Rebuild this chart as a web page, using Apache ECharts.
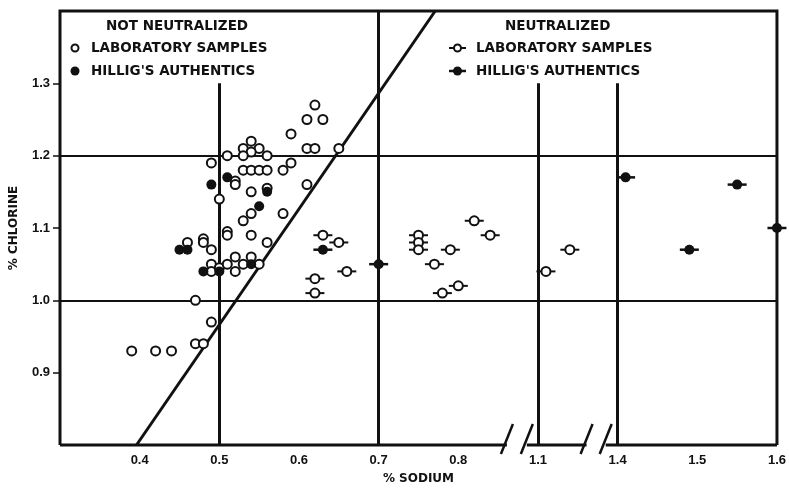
<!DOCTYPE html>
<html>
<head>
<meta charset="utf-8">
<script src="https://cdn.jsdelivr.net/npm/echarts@6/dist/echarts.min.js"></script>
<style>html,body{margin:0;padding:0;background:#fff}#c{width:789px;height:490px}</style>
</head>
<body>
<div id="c"></div>
<script>
// ---- data (% sodium, % chlorine) ----
const notNeutLabNa = [0.62,0.61,0.63,0.59,0.54,0.53,0.55,0.54,0.51,0.53,0.56,0.49,0.53,0.54,0.55,0.56,0.58,0.59,0.61,0.62,0.65,0.61,0.52,0.52,0.54,0.56,0.54,0.53,0.58,0.50,0.54,0.51,0.51,0.56,0.46,0.48,0.48,0.49,0.49,0.49,0.50,0.51,0.52,0.52,0.53,0.54,0.55,0.47,0.49,0.47,0.48,0.39,0.42,0.44];
const notNeutLabCl = [1.27,1.25,1.25,1.23,1.22,1.21,1.21,1.205,1.20,1.20,1.20,1.19,1.18,1.18,1.18,1.18,1.18,1.19,1.21,1.21,1.21,1.16,1.165,1.16,1.15,1.155,1.12,1.11,1.12,1.14,1.09,1.095,1.09,1.08,1.08,1.085,1.08,1.07,1.05,1.04,1.045,1.05,1.06,1.04,1.05,1.06,1.05,1.00,0.97,0.94,0.94,0.93,0.93,0.93];
const notNeutAuthNa = [0.49,0.51,0.55,0.56,0.45,0.46,0.48,0.50,0.54];
const notNeutAuthCl = [1.16,1.17,1.13,1.15,1.07,1.07,1.04,1.04,1.05];
const neutLabNa = [0.63,0.65,0.66,0.62,0.62,0.75,0.75,0.75,0.77,0.78,0.79,0.80,0.82,0.84,1.11,1.14];
const neutLabCl = [1.09,1.08,1.04,1.03,1.01,1.09,1.08,1.07,1.05,1.01,1.07,1.02,1.11,1.09,1.04,1.07];
const neutAuthNa = [0.63,0.70,1.41,1.49,1.55,1.60];
const neutAuthCl = [1.07,1.05,1.17,1.07,1.16,1.10];
// dividing line
const diagNa = [0.396, 0.771];
const diagCl = [0.80, 1.40];
// tick labels
const xTickValues = [0.4,0.5,0.6,0.7,0.8,1.1,1.4,1.5,1.6];
const yTickValues = [0.9,1.0,1.1,1.2,1.3];
// reference lines
const hLines = [1.0, 1.2];
const vLinesNa = [0.5, 0.7, 1.1, 1.4];
const vLinesTop = [1.3, 1.4, 1.3, 1.3];
// broken x-axis: display coordinate from sodium value
function toAxis(na){ if (na >= 1.3) return +(na-0.4).toFixed(4); if (na >= 1.0) return +(na-0.2).toFixed(4); return na; }
const breakMarksD = [0.861, 0.886, 0.961, 0.985];

function pairs(xs, ys){ return xs.map((x,i)=>[toAxis(x), ys[i]]); }

const FONT = 'DejaVu Sans';
const chart = echarts.init(document.getElementById('c'), null, {renderer:'canvas'});

const vLineData = vLinesNa.map((na,i)=>[{coord:[toAxis(na), vLinesTop[i]]},{coord:[toAxis(na),0.8]}]);
const hLineData = hLines.map(v=>({yAxis:v}));
const xTickD = xTickValues.map(toAxis);

const option = {
  animation:false,
  backgroundColor:'#fff',
  grid:{left:58,right:11,top:11,bottom:40},
  xAxis:{
    type:'value',min:0.3,max:1.2,interval:0.1,
    axisLine:{show:false},
    axisTick:{show:false},
    splitLine:{show:false},
    axisLabel:{
      customValues:xTickD,
      color:'#111',fontSize:13,fontWeight:'bold',fontFamily:'Liberation Sans',margin:9,
      formatter:function(d){
        for (const t of xTickValues){ if (Math.abs(toAxis(t)-d)<1e-6) return t.toFixed(1); }
        return '';
      }
    },
    name:'% SODIUM',nameLocation:'middle',nameGap:28,
    nameTextStyle:{color:'#111',fontSize:12,fontWeight:'bold',fontFamily:FONT}
  },
  yAxis:{
    type:'value',min:0.8,max:1.4,interval:0.1,
    axisLine:{show:false},
    axisTick:{show:true,length:7,customValues:yTickValues,lineStyle:{color:'#111',width:1.5}},
    splitLine:{show:false},
    axisLabel:{
      customValues:yTickValues,
      color:'#111',fontSize:13,fontWeight:'bold',fontFamily:'Liberation Sans',margin:10,
      formatter:function(v){ return (+v).toFixed(1); }
    },
    name:'% CHLORINE',nameLocation:'middle',nameGap:40,nameRotate:90,
    nameTextStyle:{color:'#111',fontSize:12,fontWeight:'bold',fontFamily:FONT}
  },
  series:[
    {type:'line',data:[],z:1,silent:true,
     markLine:{silent:true,symbol:'none',label:{show:false},animation:false,
       lineStyle:{color:'#111',width:2,type:'solid'},data:hLineData}},
    {type:'line',data:[],z:1,silent:true,
     markLine:{silent:true,symbol:'none',label:{show:false},animation:false,
       lineStyle:{color:'#111',width:3,type:'solid'},data:vLineData}},
    {type:'line',data:pairs(diagNa,diagCl),symbol:'none',z:2,clip:true,
     lineStyle:{color:'#111',width:3}},
    {type:'scatter',data:pairs(notNeutLabNa,notNeutLabCl),symbol:'circle',symbolSize:9,z:5,
     itemStyle:{color:'#fff',borderColor:'#111',borderWidth:2,opacity:1}},
    {type:'scatter',data:pairs(notNeutAuthNa,notNeutAuthCl),symbol:'circle',symbolSize:10,z:6,
     itemStyle:{color:'#111',opacity:1}},
    {type:'scatter',data:pairs(neutLabNa,neutLabCl),symbol:'rect',symbolSize:[19,2],z:4,
     itemStyle:{color:'#111',opacity:1}},
    {type:'scatter',data:pairs(neutLabNa,neutLabCl),symbol:'circle',symbolSize:9,z:5,
     itemStyle:{color:'#fff',borderColor:'#111',borderWidth:2,opacity:1}},
    {type:'scatter',data:pairs(neutAuthNa,neutAuthCl),symbol:'rect',symbolSize:[19,2.5],z:4,
     itemStyle:{color:'#111',opacity:1}},
    {type:'scatter',data:pairs(neutAuthNa,neutAuthCl),symbol:'circle',symbolSize:10,z:6,
     itemStyle:{color:'#111',opacity:1}}
  ]
};
chart.setOption(option);

// frame, broken bottom axis and legend
const P = (d,v)=>chart.convertToPixel({gridIndex:0},[d,v]);
const tl = P(0.3,1.4), br = P(1.2,0.8);
const L=tl[0], T=tl[1], R=br[0], B=br[1];
const bm = breakMarksD.map(d=>P(d,0.8)[0]);
const ls = {stroke:'#111',lineWidth:3};
const g = [];
g.push({type:'polyline',shape:{points:[[L,B],[L,T],[R,T],[R,B]]},style:Object.assign({fill:null},ls),z:50});
g.push({type:'line',shape:{x1:L,y1:B,x2:bm[0],y2:B},style:ls,z:50});
g.push({type:'line',shape:{x1:bm[1],y1:B,x2:bm[2],y2:B},style:ls,z:50});
g.push({type:'line',shape:{x1:bm[3],y1:B,x2:R,y2:B},style:ls,z:50});
bm.forEach(x=>g.push({type:'line',shape:{x1:x-6,y1:B+9,x2:x+6,y2:B-21},style:{stroke:'#111',lineWidth:2.5},z:51}));

const tStyle = (txt,x,y)=>({type:'text',x:x,y:y,style:{text:txt,fill:'#111',font:'bold 13.5px "'+FONT+'"',textVerticalAlign:'middle',textBaseline:'middle'},z:60});
g.push(tStyle('NOT NEUTRALIZED',106,26));
g.push({type:'circle',shape:{cx:75,cy:48,r:3.5},style:{fill:'#fff',stroke:'#111',lineWidth:2},z:60});
g.push(tStyle('LABORATORY SAMPLES',91,48));
g.push({type:'circle',shape:{cx:75,cy:71,r:4.5},style:{fill:'#111'},z:60});
g.push(tStyle("HILLIG'S AUTHENTICS",91,71));
g.push(tStyle('NEUTRALIZED',505,26));
g.push({type:'line',shape:{x1:449,y1:48,x2:466,y2:48},style:{stroke:'#111',lineWidth:2},z:60});
g.push({type:'circle',shape:{cx:457.5,cy:48,r:3.5},style:{fill:'#fff',stroke:'#111',lineWidth:2},z:61});
g.push(tStyle('LABORATORY SAMPLES',476,48));
g.push({type:'line',shape:{x1:449,y1:71,x2:466,y2:71},style:{stroke:'#111',lineWidth:2.5},z:60});
g.push({type:'circle',shape:{cx:457.5,cy:71,r:4.5},style:{fill:'#111'},z:61});
g.push(tStyle("HILLIG'S AUTHENTICS",476,71));
chart.setOption({graphic:{elements:g}});
</script>
</body>
</html>
